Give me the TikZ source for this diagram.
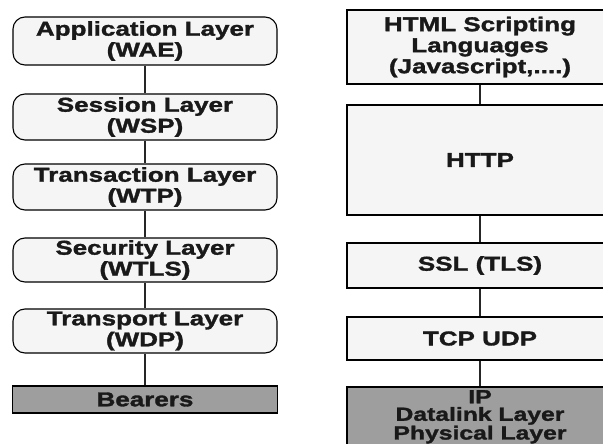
\documentclass[tikz,border=0pt]{standalone}
\usepackage{fontspec}
\setmainfont{Liberation Sans}[FakeStretch=1.3,BoldFeatures={FakeBold=1.6}]
\begin{document}
\begin{tikzpicture}[x=1pt,y=-1pt,
  base/.style={draw=black, line width=1.1pt, inner sep=0pt, align=center,
    font=\fontsize{20}{21}\selectfont\bfseries, text=black!90},
  lbox/.style={base, rounded corners=12pt, fill=black!4, minimum width=264pt},
  rbox/.style={base, fill=black!4, minimum width=266pt},
  dbox/.style={base, fill=black!38, minimum width=266pt},
  link/.style={draw=black!85, line width=1.1pt}]
\useasboundingbox (0,0) rectangle (603,444);
\clip (0,0) rectangle (603,444);
% left stack
\node[lbox, minimum height=48pt] (app) at (145,41) {Application Layer\\(WAE)};
\node[lbox, minimum height=46pt] (sess) at (145,117) {Session Layer\\(WSP)};
\node[lbox, minimum height=46pt] (trans) at (145,187) {Transaction Layer\\(WTP)};
\node[lbox, minimum height=44pt] (sec) at (145,260) {Security Layer\\(WTLS)};
\node[lbox, minimum height=44pt] (tp) at (145,331) {Transport Layer\\(WDP)};
\node[dbox, minimum width=265pt, minimum height=27pt] (bear) at (145,399.5) {Bearers};
\draw[link] (app) -- (sess);
\draw[link] (sess) -- (trans);
\draw[link] (trans) -- (sec);
\draw[link] (sec) -- (tp);
\draw[link] (tp) -- (bear);
% right stack
\node[rbox, minimum height=74pt] (html) at (480,47) {HTML Scripting\\Languages\\(Javascript,....)};
\node[rbox, minimum height=110pt] (http) at (480,160) {HTTP};
\node[rbox, minimum height=45pt] (ssl) at (480,265.5) {SSL (TLS)};
\node[rbox, minimum height=43pt] (tcp) at (480,338.5) {TCP UDP};
\node[dbox, minimum height=66pt] (ip) at (480,420) {};
\node[font=\fontsize{19}{17.5}\selectfont\bfseries, align=center, inner sep=0pt, anchor=north, text=black!90] (iptext) at (480,390) {IP\\Datalink Layer\\Physical Layer};
\draw[link] (html) -- (http);
\draw[link] (http) -- (ssl);
\draw[link] (ssl) -- (tcp);
\draw[link] (tcp) -- (ip);
\end{tikzpicture}
\end{document}
